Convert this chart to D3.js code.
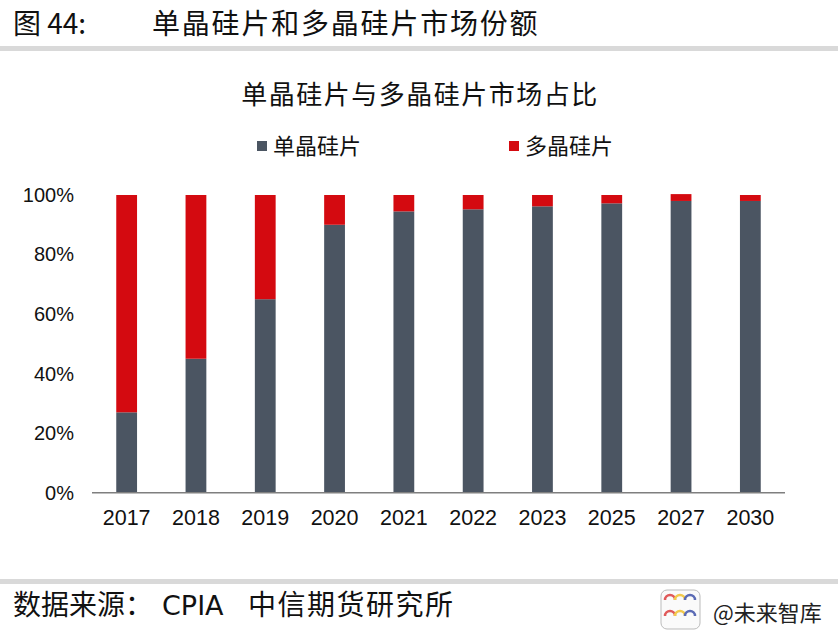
<!DOCTYPE html>
<html>
<head>
<meta charset="utf-8">
<script src="https://cdn.jsdelivr.net/npm/d3@7/dist/d3.min.js"></script>
<style>
  html, body { margin: 0; padding: 0; background: #fff; }
  svg { display: block; }
</style>
</head>
<body>
<svg id="chart" width="838" height="641"></svg>
<script>
const years = ["2017", "2018", "2019", "2020", "2021", "2022", "2023", "2025", "2027", "2030"];
const mono = [27, 45, 65, 90, 94.5, 95.2, 96.2, 97.2, 98, 98];
const poly = [73, 55, 35, 10, 5.5, 4.8, 3.8, 2.8, 2.3, 2];
const seriesNames = ["单晶硅片", "多晶硅片"];
const seriesColors = ["#4b5562", "#d40a10"];
const yTicks = [0, 20, 40, 60, 80, 100];

const CJK = "'Noto Sans CJK SC', 'Noto Sans', sans-serif";
const NUM = "'Liberation Sans', 'Noto Sans', sans-serif";

const svg = d3.select("#chart");

// Header
svg.append("text").attr("x", 13).attr("y", 34)
  .style("font-family", CJK).style("font-size", "28px").attr("fill", "#111")
  .text("图 44:");
svg.append("text").attr("x", 152).attr("y", 34)
  .style("font-family", CJK).style("font-size", "28px").attr("fill", "#111")
  .style("letter-spacing", "1.8px")
  .text("单晶硅片和多晶硅片市场份额");
svg.append("rect").attr("x", 0).attr("y", 46).attr("width", 838).attr("height", 5).attr("fill", "#d9d9d9");

// Footer
svg.append("rect").attr("x", 0).attr("y", 579).attr("width", 838).attr("height", 5).attr("fill", "#d9d9d9");
svg.append("text").attr("x", 13).attr("y", 615)
  .style("font-family", CJK).style("font-size", "28px").attr("fill", "#111")
  .text("数据来源：");
svg.append("text").attr("x", 162).attr("y", 615)
  .style("font-family", "'DejaVu Sans', sans-serif").style("font-size", "27px").attr("fill", "#111")
  .text("CPIA");
svg.append("text").attr("x", 248).attr("y", 615)
  .style("font-family", CJK).style("font-size", "28px").attr("fill", "#111")
  .style("letter-spacing", "1.5px")
  .text("中信期货研究所");

// Watermark
const wm = svg.append("g");
wm.append("rect").attr("x", 661).attr("y", 590).attr("width", 39).attr("height", 39).attr("rx", 6)
  .attr("fill", "#fafafa").attr("stroke", "#bbb");
const arcCols = ["#e05a5a", "#f2c94c", "#5b6bb5", "#e05a5a", "#f2c94c", "#5b6bb5"];
arcCols.forEach((c, i) => {
  const cx = 670 + (i % 3) * 10, cy = 600 + Math.floor(i / 3) * 16;
  wm.append("path").attr("d", `M${cx - 5},${cy} A5,5 0 0 1 ${cx + 5},${cy}`)
    .attr("fill", "none").attr("stroke", c).attr("stroke-width", 2.5);
});
wm.append("text").attr("x", 713).attr("y", 621)
  .style("font-family", CJK).style("font-size", "22px").attr("fill", "#222")
  .text("@未来智库");

// Chart title
svg.append("text").attr("x", 420).attr("y", 104).attr("text-anchor", "middle")
  .style("font-family", CJK).style("font-size", "26px").attr("fill", "#111")
  .style("letter-spacing", "1.5px")
  .text("单晶硅片与多晶硅片市场占比");

// Legend
const legendX = [257, 509];
seriesNames.forEach((n, i) => {
  svg.append("rect").attr("x", legendX[i]).attr("y", 141).attr("width", 10).attr("height", 10)
    .attr("fill", seriesColors[i]);
  svg.append("text").attr("x", legendX[i] + 16).attr("y", 154)
    .style("font-family", CJK).style("font-size", "22px").attr("fill", "#111")
    .text(n);
});

// Scales
const x = d3.scaleBand().domain(years).range([92, 785]).paddingInner(0.7).paddingOuter(0.35);
const y = d3.scaleLinear().domain([0, 100]).range([492.7, 195]);

// Bars
const g = svg.append("g");
g.selectAll("rect.mono").data(years).enter().append("rect")
  .attr("class", "mono")
  .attr("x", d => x(d)).attr("width", x.bandwidth())
  .attr("y", (d, i) => y(mono[i])).attr("height", (d, i) => y(0) - y(mono[i]))
  .attr("fill", seriesColors[0]);
g.selectAll("rect.poly").data(years).enter().append("rect")
  .attr("class", "poly")
  .attr("x", d => x(d)).attr("width", x.bandwidth())
  .attr("y", (d, i) => y(mono[i] + poly[i])).attr("height", (d, i) => y(mono[i]) - y(mono[i] + poly[i]))
  .attr("fill", seriesColors[1]);

// Y axis (labels only)
const yAxis = svg.append("g").attr("transform", "translate(74,0)")
  .call(d3.axisLeft(y).tickValues(yTicks).tickFormat(d => d + "%").tickSize(0).tickPadding(0));
yAxis.select(".domain").remove();
yAxis.selectAll("text").style("font-family", NUM).style("font-size", "20px").attr("fill", "#111");

// X axis
const xAxis = svg.append("g").attr("transform", `translate(0,${y(0)})`)
  .call(d3.axisBottom(x).tickSize(0).tickPadding(17));
xAxis.select(".domain").attr("stroke", "#7f7f7f").attr("stroke-width", 1.5)
  .attr("d", "M92,0H785");
xAxis.selectAll("text").style("font-family", NUM).style("font-size", "21.5px").attr("fill", "#111");
</script>
</body>
</html>
